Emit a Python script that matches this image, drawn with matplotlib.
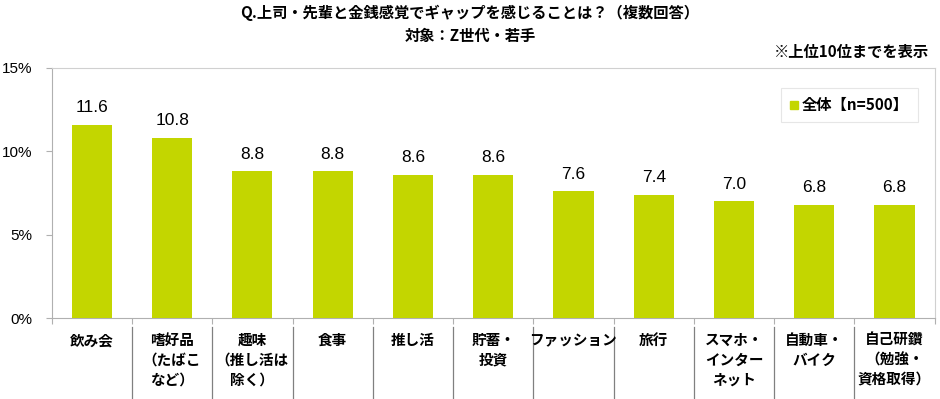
import matplotlib
matplotlib.use("Agg")
import matplotlib.pyplot as plt
from matplotlib.patches import Patch
import matplotlib.transforms as mtransforms

plt.rcParams['font.family'] = ['Noto Sans CJK JP', 'DejaVu Sans']

# データ
categories = [
    "飲み会",
    "嗜好品\n（たばこ\nなど）",
    "趣味\n（推し活は\n除く）",
    "食事",
    "推し活",
    "貯蓄・\n投資",
    "ファッション",
    "旅行",
    "スマホ・\nインター\nネット",
    "自動車・\nバイク",
    "自己研鑽\n（勉強・\n資格取得）",
]
values = [11.6, 10.8, 8.8, 8.8, 8.6, 8.6, 7.6, 7.4, 7.0, 6.8, 6.8]
yticks = [0, 5, 10, 15]
ytick_labels = ["0%", "5%", "10%", "15%"]
series_name = "全体【n=500】"

bar_color = "#c3d600"
frame_color = "#b0b0b0"
num_font = ['Liberation Sans', 'DejaVu Sans']

fig = plt.figure(figsize=(9.4, 3.99), dpi=100)
ax = fig.add_axes([0.055, 0.203, 0.9393, 0.6266])

x = list(range(len(values)))
ax.bar(x, values, width=0.5, color=bar_color, zorder=3)

for xi, v in zip(x, values):
    ax.annotate(f"{v:.1f}", (xi, v), xytext=(0, 7), textcoords='offset points',
                ha='center', va='bottom', fontsize=12.5, family=num_font)

ax.set_xlim(-0.5, len(values) - 0.5)
ax.set_ylim(0, 15)
ax.set_yticks(yticks)
ax.set_yticklabels(ytick_labels, family=num_font, fontsize=11)
ax.tick_params(axis='y', length=4, color=frame_color, pad=10)

# x軸: 区切り目盛り
ax.set_xticks([i - 0.5 for i in range(len(values) + 1)])
ax.set_xticklabels([])
ax.tick_params(axis='x', length=4, color=frame_color)

for side in ['left', 'bottom']:
    ax.spines[side].set_color(frame_color)
for side in ['top', 'right']:
    ax.spines[side].set_color("#d0d0d0")

# カテゴリ名と区切り線
trans = mtransforms.blended_transform_factory(ax.transData, ax.transAxes)
for i, label in enumerate(categories):
    ax.text(i, -0.056, label, transform=trans, ha='center', va='top',
            multialignment='center', fontsize=10.5, fontweight='bold',
            linespacing=1.3)
for i in range(len(values) - 1):
    ax.plot([i + 0.5, i + 0.5], [-0.036, -0.33], transform=trans,
            color="#808080", linewidth=0.9, clip_on=False)

# 凡例
leg = ax.legend(handles=[Patch(color=bar_color, label=series_name)],
                loc='upper right', bbox_to_anchor=(0.99, 0.95),
                frameon=True, fancybox=False,
                handlelength=0.5, handleheight=0.5, handletextpad=0.3,
                borderpad=0.6, prop={'weight': 'bold', 'size': 11})
leg.get_frame().set_edgecolor("#e0e0e0")
leg.get_frame().set_linewidth(0.8)

# タイトル
fig.text(0.5, 0.967, "Q.上司・先輩と金銭感覚でギャップを感じることは？（複数回答）",
         ha='center', va='center', fontsize=11, fontweight='bold')
fig.text(0.5, 0.91, "対象：Z世代・若手", ha='center', va='center',
         fontsize=11, fontweight='bold')
fig.text(0.988, 0.87, "※上位10位までを表示", ha='right', va='center',
         fontsize=11, fontweight='bold')

fig.savefig("out.png", dpi=100)
